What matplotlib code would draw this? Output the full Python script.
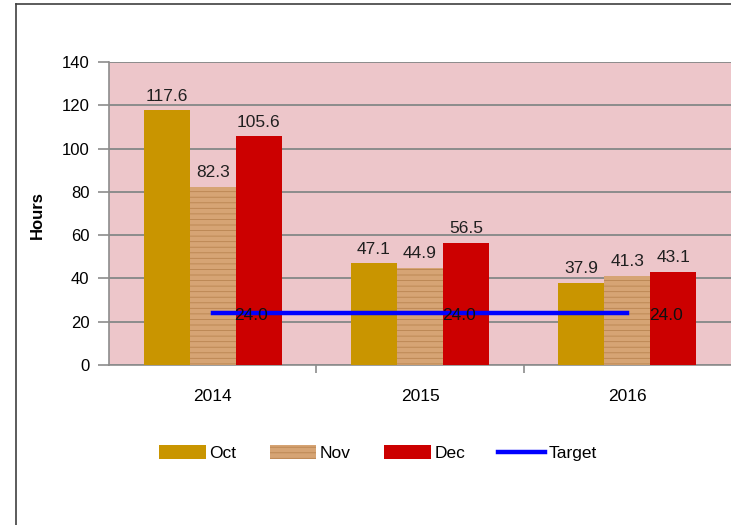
import matplotlib.pyplot as plt
import numpy as np
from matplotlib.lines import Line2D

years = ["2014", "2015", "2016"]
oct_hours = [117.6, 47.1, 37.9]
nov_hours = [82.3, 44.9, 41.3]
dec_hours = [105.6, 56.5, 43.1]
target = [24.0, 24.0, 24.0]

plt.rcParams['font.family'] = ['Liberation Sans', 'DejaVu Sans']
plt.rcParams['hatch.linewidth'] = 0.6

fig = plt.figure(figsize=(7.31, 5.25), dpi=100)
fig.patch.set_facecolor('white')

# chart border (right and bottom sides fall outside the picture)
fig.add_artist(Line2D([16 / 731, 16 / 731], [0, 1 - 4 / 525], color='#404040', lw=1.2))
fig.add_artist(Line2D([16 / 731, 1], [1 - 4 / 525, 1 - 4 / 525], color='#404040', lw=1.2))

ax = fig.add_axes([109 / 731, 1 - 365 / 525, 622 / 731, 303 / 525])
ax.set_facecolor('#EDC6CA')

x = np.arange(len(years))
w = 0.222
b_oct = ax.bar(x - w, oct_hours, w, color='#C99500', label='Oct', zorder=3)
b_nov = ax.bar(x, nov_hours, w, color='#D6A474', edgecolor='#B98450', hatch='---',
               linewidth=0, label='Nov', zorder=3)
b_dec = ax.bar(x + w, dec_hours, w, color='#CC0000', label='Dec', zorder=3)
line, = ax.plot(x, target, color='#0000FF', lw=3.2, label='Target', zorder=4)

for bars, vals in [(b_oct, oct_hours), (b_nov, nov_hours), (b_dec, dec_hours)]:
    for bar, v in zip(bars, vals):
        ax.text(bar.get_x() + bar.get_width() / 2, v + 3, f"{v:.1f}",
                ha='center', va='bottom', fontsize=12.5, color='#202020', zorder=5)
for xi, t in zip(x, target):
    ax.text(xi + 0.105, t - 1, f"{t:.1f}", ha='left', va='center', fontsize=12.5,
            color='#101010', zorder=5)

ax.set_xlim(-0.5, 2.5)
ax.set_ylim(0, 140)
ax.set_yticks(range(0, 141, 20))
ax.yaxis.grid(True, color='#8C8C8C', lw=1.4, zorder=1)
ax.set_axisbelow(True)
ax.set_xticks(x)
ax.set_xticklabels(years)
ax.set_xticks([0.5, 1.5], minor=True)
ax.tick_params(axis='x', which='major', length=0, pad=17, labelsize=12.5)
ax.tick_params(axis='x', which='minor', length=6, color='#8C8C8C', width=1.2)
ax.tick_params(axis='y', length=8, color='#8C8C8C', width=1.2, labelsize=12, pad=6)
for s in ['top', 'right']:
    ax.spines[s].set_visible(False)
for s in ['left', 'bottom']:
    ax.spines[s].set_color('#8C8C8C')
    ax.spines[s].set_linewidth(1.2)

fig.text(37 / 731, 1 - 215 / 525, "Hours", rotation=90, ha='center', va='center',
         fontsize=12, fontweight='bold')

fig.legend(handles=[b_oct, b_nov, b_dec, line], labels=['Oct', 'Nov', 'Dec', 'Target'],
           loc='center', bbox_to_anchor=(378 / 731, 1 - 453 / 525), ncol=4, frameon=False,
           fontsize=12.5, handlelength=2.7, handleheight=0.9, handletextpad=0.2,
           columnspacing=1.9)

fig.savefig('out.png', dpi=100)
